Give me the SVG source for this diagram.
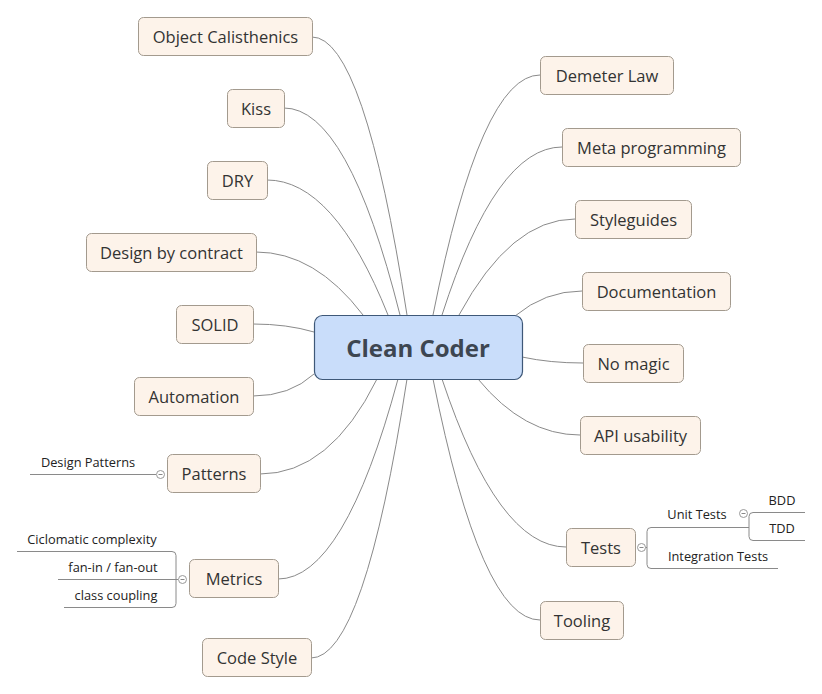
<svg xmlns="http://www.w3.org/2000/svg" width="822" height="694" viewBox="0 0 822 694">
<style>
.n rect{fill:#fdf3ea;stroke:#a39a8e;stroke-width:1}
.n text{font-family:"Open Sans","Noto Sans",sans-serif;font-size:16.5px;fill:#333;text-anchor:middle}
.c path{fill:none;stroke:#8a8a8a;stroke-width:1}
.s path,.s line{fill:none;stroke:#8a8a8a;stroke-width:1}
.s text{font-family:"Open Sans","Noto Sans",sans-serif;font-size:12.8px;fill:#222;text-anchor:middle}
.k circle{fill:#fff;stroke:#999;stroke-width:1}
.k line{stroke:#888;stroke-width:1}
</style>
<rect width="822" height="694" fill="#fff"/>
<g id="connectors" class="c">
<path d="M312,37 Q364,37 407,315"/>
<path d="M284,108 Q348,108 400,315"/>
<path d="M267,180 Q334,180 388,315"/>
<path d="M256,252 Q315,252 363,315"/>
<path d="M253,324 Q287,324 314,332"/>
<path d="M253,396 Q290,396 314,374"/>
<path d="M260,474 Q330,474 377,379"/>
<path d="M278,579 Q344,579 398,379"/>
<path d="M311,658 Q364,658 407,379"/>
<path d="M540,75 Q481,75 433,315"/>
<path d="M562,147 Q496,147 442,315"/>
<path d="M575,219 Q511,219 459,315"/>
<path d="M582,291 Q545,291 515,316"/>
<path d="M583,363 Q550,363 522,357"/>
<path d="M580,435 Q524,435 478,379"/>
<path d="M566,547 Q498,547 442,379"/>
<path d="M540,620 Q481,620 433,379"/>
</g>
<g id="center">
<rect x="314.5" y="315.5" width="208" height="64" rx="8" fill="#c9ddfa" stroke="#3e5878" stroke-width="1.2"/>
<text x="418" y="357" font-family="'Open Sans','Noto Sans',sans-serif" font-size="24" font-weight="bold" fill="#3d4651" text-anchor="middle">Clean Coder</text>
</g>
<g id="object-calisthenics" class="n"><rect x="138.5" y="17.5" width="174" height="38" rx="5"/><text x="225.5" y="43">Object Calisthenics</text></g>
<g id="kiss" class="n"><rect x="227.5" y="89.5" width="57" height="38" rx="5"/><text x="256" y="115">Kiss</text></g>
<g id="dry" class="n"><rect x="207.5" y="161.5" width="60" height="38" rx="5"/><text x="237.5" y="187">DRY</text></g>
<g id="design-by-contract" class="n"><rect x="86.5" y="233.5" width="170" height="38" rx="5"/><text x="171.5" y="259">Design by contract</text></g>
<g id="solid" class="n"><rect x="176.5" y="305.5" width="77" height="38" rx="5"/><text x="215" y="331">SOLID</text></g>
<g id="automation" class="n"><rect x="134.5" y="377.5" width="119" height="38" rx="5"/><text x="194" y="403">Automation</text></g>
<g id="patterns" class="n"><rect x="167.5" y="454.5" width="93" height="38" rx="5"/><text x="214" y="480">Patterns</text></g>
<g id="metrics" class="n"><rect x="189.5" y="559.5" width="89" height="38" rx="5"/><text x="234" y="585">Metrics</text></g>
<g id="code-style" class="n"><rect x="202.5" y="638.5" width="109" height="38" rx="5"/><text x="257" y="664">Code Style</text></g>
<g id="demeter-law" class="n"><rect x="540.5" y="56.5" width="133" height="38" rx="5"/><text x="607" y="82">Demeter Law</text></g>
<g id="meta-programming" class="n"><rect x="562.5" y="128.5" width="178" height="38" rx="5"/><text x="651.5" y="154">Meta programming</text></g>
<g id="styleguides" class="n"><rect x="575.5" y="200.5" width="116" height="38" rx="5"/><text x="633.5" y="226">Styleguides</text></g>
<g id="documentation" class="n"><rect x="582.5" y="272.5" width="148" height="38" rx="5"/><text x="656.5" y="298">Documentation</text></g>
<g id="no-magic" class="n"><rect x="583.5" y="344.5" width="100" height="38" rx="5"/><text x="633.5" y="370">No magic</text></g>
<g id="api-usability" class="n"><rect x="580.5" y="416.5" width="120" height="38" rx="5"/><text x="640.5" y="442">API usability</text></g>
<g id="tests" class="n"><rect x="566.5" y="528.5" width="69" height="38" rx="5"/><text x="601" y="554">Tests</text></g>
<g id="tooling" class="n"><rect x="540.5" y="601.5" width="83" height="38" rx="5"/><text x="582" y="627">Tooling</text></g>
<g id="patterns-sub" class="s">
<line x1="30" y1="474.5" x2="156" y2="474.5"/>
<text x="88" y="467">Design Patterns</text>
<g class="k"><circle cx="160.5" cy="474.5" r="4"/><line x1="158.5" y1="474.5" x2="162.5" y2="474.5"/></g>
</g>
<g id="metrics-sub" class="s">
<path d="M17,551.5 H172 Q176,551.5 176,555.5 V603.5 Q176,607.5 172,607.5 H64"/>
<line x1="58" y1="579.5" x2="178" y2="579.5"/>
<text x="92" y="544">Ciclomatic complexity</text>
<text x="113" y="572">fan-in / fan-out</text>
<text x="116" y="600">class coupling</text>
<g class="k"><circle cx="182.5" cy="579.5" r="4"/><line x1="180.5" y1="579.5" x2="184.5" y2="579.5"/></g>
</g>
<g id="tests-sub" class="s">
<path d="M749,527.5 H651 Q647,527.5 647,531.5 V564.5 Q647,568.5 651,568.5 H778"/>
<line x1="645" y1="547.5" x2="647" y2="547.5"/>
<path d="M805,512.5 H753 Q749,512.5 749,516.5 V536.5 Q749,540.5 753,540.5 H805"/>
<text x="697" y="519">Unit Tests</text>
<text x="718" y="561">Integration Tests</text>
<text x="782" y="505">BDD</text>
<text x="782" y="533">TDD</text>
<g class="k"><circle cx="641.5" cy="547.5" r="4"/><line x1="639.5" y1="547.5" x2="643.5" y2="547.5"/></g>
<g class="k"><circle cx="743.5" cy="513.5" r="4"/><line x1="741.5" y1="513.5" x2="745.5" y2="513.5"/></g>
</g>
</svg>
